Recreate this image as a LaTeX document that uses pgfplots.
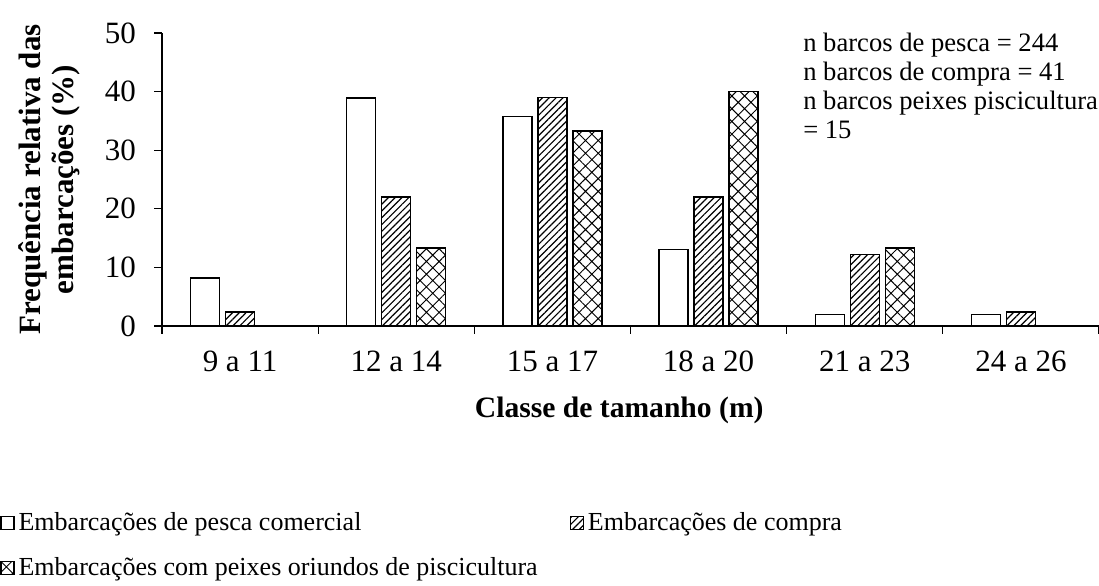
\documentclass[border=0pt]{standalone}
\usepackage{fontspec}
\setmainfont{Liberation Serif}
\usepackage{pgfplots}
\pgfplotsset{compat=1.18}
\usetikzlibrary{patterns.meta}

\pgfplotsset{
  legbox/.style={legend image code/.code={\draw[##1,line width=0.7pt] (0pt,-3.2pt) rectangle (6.4pt,3.2pt);}},
}

\begin{document}
\begin{tikzpicture}
\begin{axis}[
  scale only axis, width=468.5pt, height=146.5pt,
  ymin=0, ymax=50, ytick={0,10,...,50},
  xmin=-0.5, xmax=5.5,
  xtick={-0.5,0.5,1.5,2.5,3.5,4.5,5.5},
  x tick label as interval,
  xticklabels={9 a 11,12 a 14,15 a 17,18 a 20,21 a 23,24 a 26},
  tick align=outside, major tick length=4pt,
  axis x line*=bottom, axis y line*=left,
  axis line style={line width=0.6pt}, tick style={line width=0.6pt, black},
  ybar=3pt, bar width=14.5pt,
  tick label style={font=\fontsize{15.5}{17}\selectfont},
  yticklabel style={xshift=-5.5pt},
  xticklabel style={yshift=-5pt},
  /pgf/number format/assume math mode=true,
  xlabel={Classe de tamanho (m)},
  xlabel style={font=\fontsize{14.8}{17}\selectfont\bfseries, at={(rel axis cs:0.488,0)}, anchor=base, yshift=-46pt},
  ylabel={Frequência relativa das\\embarcações (\%)},
  ylabel style={font=\fontsize{15.5}{16.5}\selectfont\bfseries, align=center,
    at={(rel axis cs:0,0.5)}, anchor=center, yshift=56.5pt},
  legend style={at={(rel axis cs:0,0)}, anchor=north west, xshift=-81pt, yshift=-89pt,
    draw=none, fill=none, row sep=8pt, inner xsep=0pt, font=\fontsize{13}{15}\selectfont,
    /tikz/every even column/.append style={column sep=14pt}},
  legend columns=2, legend cell align=left,
]
\addplot[legbox, draw=black, line width=0.7pt, fill=white]
  coordinates {(0,8.2) (1,38.9) (2,35.7) (3,13.1) (4,2.0) (5,2.0)};
\addplot[legbox, draw=black, line width=0.7pt, pattern={Lines[angle=45,distance=2.4pt,line width=0.6pt]}]
  coordinates {(0,2.4) (1,22.0) (2,39.0) (3,22.0) (4,12.2) (5,2.4)};
\addplot[legbox, draw=black, line width=0.7pt, pattern={Hatch[angle=45,distance=4.5pt,line width=0.5pt]}]
  coordinates {(1,13.3) (2,33.3) (3,40.0) (4,13.3)};
\legend{Embarcações de pesca comercial, Embarcações de compra, Embarcações com peixes oriundos de piscicultura}
\node[anchor=north west, align=left, inner sep=0pt, font=\fontsize{13.3}{14.5}\selectfont]
  at (rel axis cs:0.684,1) {n barcos de pesca = 244\\n barcos de compra = 41\\n barcos peixes piscicultura\\= 15};
\coordinate (bb) at (rel axis cs:0,0);
\coordinate (tr) at (rel axis cs:1,1);
\end{axis}
\pgfresetboundingbox
\path[use as bounding box] ([shift={(-81pt,-130pt)}]bb) rectangle ([shift={(0pt,16.5pt)}]tr);
\end{tikzpicture}
\end{document}
